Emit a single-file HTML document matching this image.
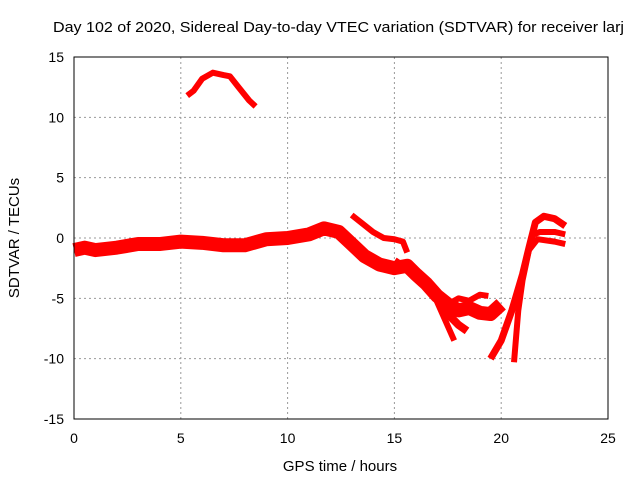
<!DOCTYPE html>
<html><head><meta charset="utf-8"><style>
body{margin:0;background:#fff}
svg{display:block;font-family:"Liberation Sans",sans-serif}
</style></head><body>
<svg id="c" width="640" height="480">
<text x="53" y="32" font-size="15" textLength="571" lengthAdjust="spacingAndGlyphs">Day 102 of 2020, Sidereal Day-to-day VTEC variation (SDTVAR) for receiver larj</text>
<text x="340" y="471" font-size="15" text-anchor="middle">GPS time / hours</text>
<text transform="translate(19,238) rotate(-90)" font-size="15" text-anchor="middle">SDTVAR / TECUs</text>
<g id="grid"></g><g id="ticks"></g><g id="series"></g>
<rect x="74" y="57" width="534" height="362" fill="none" stroke="#000"/>
</svg>
<script>
const xTicks=[0,5,10,15,20,25];
const yTicks=[-15,-10,-5,0,5,10,15];
const arcTop=[[5.3,11.8],[5.6,12.2],[6,13.2],[6.5,13.7],[7,13.5],[7.3,13.4],[7.7,12.5],[8.2,11.4],[8.5,10.9]];
const mainBand=[[0,-1.0],[0.5,-0.8],[1,-1.0],[2,-0.8],[3,-0.5],[4,-0.5],[5,-0.3],[6,-0.4],[7,-0.6],[8,-0.6],[9,-0.1],[10,0],[11,0.3],[11.7,0.8],[12.4,0.5],[13,-0.5],[13.6,-1.5],[14.3,-2.2],[15,-2.5],[15.6,-2.3],[16,-3.0],[16.5,-3.8],[17,-4.8],[17.5,-5.5],[18,-6.0],[18.5,-5.8],[19,-6.2],[19.5,-6.3],[20,-5.5]];
const upperBranch=[[13,1.9],[13.5,1.2],[14,0.5],[14.5,0],[15,-0.1],[15.4,-0.3],[15.6,-1.2]];
const midBranch=[[15,-1.9],[15.5,-2.5],[16,-3.2],[16.5,-4.0],[17,-5.0],[17.5,-6.3],[18,-7.2],[18.4,-7.7]];
const lowBranch=[[16.8,-4.5],[17.3,-6.5],[17.8,-8.5]];
const smallBranch=[[17.5,-5.5],[18,-5.0],[18.5,-5.2],[19,-4.7],[19.4,-4.8]];
const recoveryA=[[19.5,-10],[20,-8.5],[20.5,-6],[21,-3],[21.3,-0.8],[21.6,1.3],[22,1.8],[22.5,1.6],[23,1.0]];
const recoveryB=[[20.6,-10.3],[20.8,-6],[21.0,-3.5],[21.3,-1.0],[21.7,-0.1],[22.5,-0.3],[23,-0.5]];
const recoveryC=[[21.4,0.2],[21.8,0.5],[22.5,0.5],[23,0.3]];
const X=v=>74+v*534/25, Y=v=>238-v*362/30;
const NS="http://www.w3.org/2000/svg";
const g=document.getElementById('grid'),t=document.getElementById('ticks'),s=document.getElementById('series');
function el(p,tag,a){const e=document.createElementNS(NS,tag);for(const k in a)e.setAttribute(k,a[k]);p.appendChild(e);return e;}
xTicks.forEach(v=>{
 if(v>0&&v<25){const l=el(g,'line',{x1:X(v),x2:X(v),y1:57,y2:419,stroke:'#999','stroke-dasharray':'2,3'});
 
 }
 const tx=el(t,'text',{x:X(v),y:443,'font-size':14,'text-anchor':'middle'});tx.textContent=v;
 
 
});
yTicks.forEach(v=>{
 if(v>-15&&v<15){const l=el(g,'line',{x1:74,x2:608,y1:Y(v),y2:Y(v),stroke:'#999','stroke-dasharray':'2,3'});
 
 }
 const tx=el(t,'text',{x:64,y:Y(v)+5,'font-size':14,'text-anchor':'end'});tx.textContent=v;
 
 
});
function draw(data,w,name){
 const p=el(s,'polyline',{points:data.map(d=>X(d[0])+','+Y(d[1])).join(' '),fill:'none',stroke:'#f00','stroke-width':w,'stroke-linejoin':'round','stroke-linecap':'butt'});
 
 
}
draw(arcTop,6,'series-top-arc');
draw(mainBand,14,'series-main-band');
draw(upperBranch,6,'series-upper-branch');
draw(midBranch,8,'series-mid-branch');
draw(lowBranch,6,'series-low-branch');
draw(smallBranch,6,'series-small-branch');
draw(recoveryA,7,'series-recovery-a');
draw(recoveryB,6,'series-recovery-b');
draw(recoveryC,6,'series-recovery-c');
</script>
</body></html>
